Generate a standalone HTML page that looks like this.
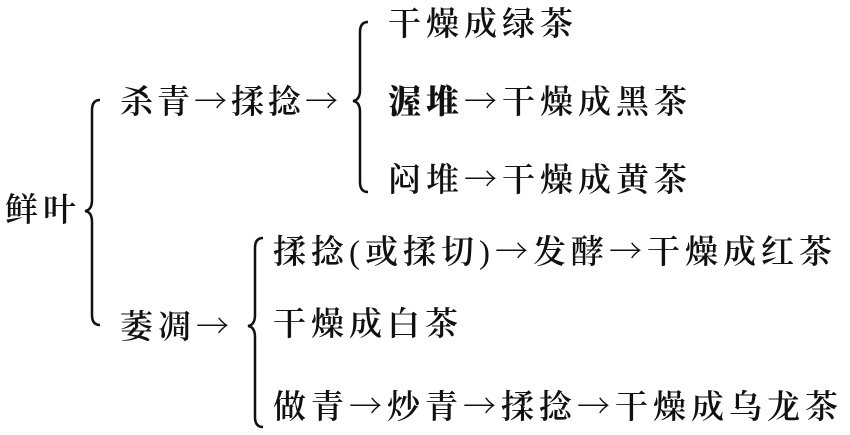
<!DOCTYPE html>
<html><head><meta charset="utf-8"><style>
html,body{margin:0;padding:0;background:#fff;}
body{width:850px;height:435px;position:relative;overflow:hidden;}
.t{position:absolute;font-family:"Liberation Serif","Noto Serif CJK SC",serif;font-size:33px;letter-spacing:5px;line-height:44px;color:#111;white-space:nowrap;font-weight:600;}
.a{font-family:"Noto Serif CJK SC","Noto Sans CJK SC",serif;font-weight:400;}
.p{font-weight:400;}
svg{position:absolute;left:0;top:0;}
</style></head><body>
<svg width="850" height="435" fill="none" stroke="#111" stroke-width="2.5">
<path d="M100 100 Q92 100 92 110 L92 200 Q92 210 85 211 Q92 212 92 222 L92 315 Q92 325 100 325"/>
<path d="M368 22 Q360 22 360 32 L360 90 Q360 100 353 101 Q360 102 360 112 L360 182 Q360 192 368 192"/>
<path d="M263 238 Q255 238 255 248 L255 315 Q255 325 248 326 Q255 327 255 337 L255 417 Q255 427 263 427"/>
</svg>
<div class="t" style="left:5px;top:189px">鲜叶</div>
<div class="t" style="left:120px;top:78px;letter-spacing:4px">杀青<span class="a">→</span>揉捻<span class="a">→</span></div>
<div class="t" style="left:388px;top:3px">干燥成绿茶</div>
<div class="t" style="left:388px;top:78px"><b style="font-weight:900">渥堆</b><span class="a">→</span>干燥成黑茶</div>
<div class="t" style="left:388px;top:156px">闷堆<span class="a">→</span>干燥成黄茶</div>
<div class="t" style="left:120px;top:303px">萎凋<span class="a">→</span></div>
<div class="t" style="left:273px;top:228px;letter-spacing:5px">揉捻<span class="p">(</span>或揉切<span class="p">)</span><span class="a">→</span>发酵<span class="a">→</span>干燥成红茶</div>
<div class="t" style="left:273px;top:303px">干燥成白茶</div>
<div class="t" style="left:273px;top:383px">做青<span class="a">→</span>炒青<span class="a">→</span>揉捻<span class="a">→</span>干燥成乌龙茶</div>
</body></html>
